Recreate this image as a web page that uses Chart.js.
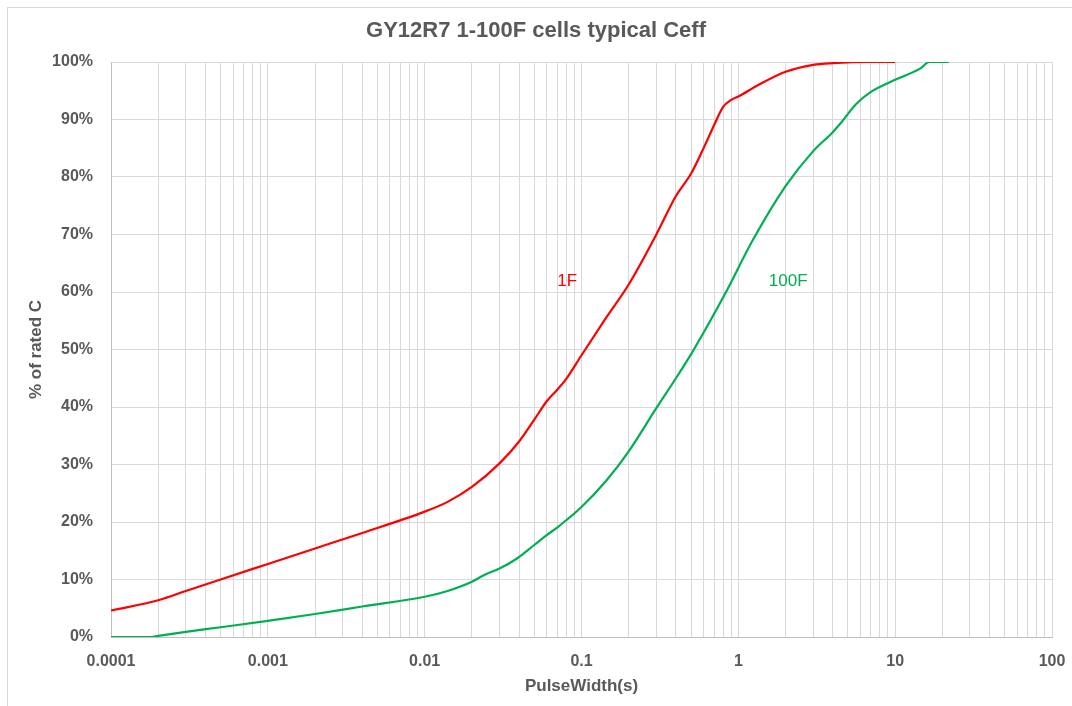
<!DOCTYPE html>
<html>
<head>
<meta charset="utf-8">
<script src="https://cdn.jsdelivr.net/npm/chart.js@4"></script>
<style>
    html, body { margin: 0; padding: 0; background: #fff; }
    canvas { display: block; }
</style>
</head>
<body>
<canvas id="ceff-chart" width="1072" height="706"></canvas>
<script>
// Pulse width (s) vs % of rated C
var pulse1F = [0.0001, 0.0002, 0.0003, 0.0005, 0.001, 0.002, 0.004, 0.01, 0.014, 0.02, 0.03, 0.04, 0.05, 0.06, 0.07, 0.08, 0.1, 0.145, 0.2, 0.3, 0.4, 0.5, 0.6, 0.7, 0.8, 0.9, 1.0, 1.34, 2.0, 3.0, 4.0, 7.0, 10];
var ceff1F = [4.6, 6.4, 8.0, 10.0, 12.7, 15.4, 18.1, 21.8, 23.5, 26.1, 30.2, 34.0, 37.8, 41.0, 43.0, 44.9, 49.0, 55.7, 61.3, 70.0, 76.7, 80.6, 85.0, 89.0, 92.2, 93.4, 94.0, 96.0, 98.3, 99.5, 99.8, 100, 100];

var pulse100F = [0.0001, 0.00018, 0.0002, 0.0003, 0.0005, 0.001, 0.002, 0.004, 0.01, 0.014, 0.02, 0.024, 0.03, 0.039, 0.05, 0.06, 0.072, 0.1, 0.145, 0.2, 0.3, 0.4, 0.5, 0.62, 0.82, 1.23, 2.0, 3.0, 4.0, 4.6, 5.6, 7.0, 10, 14.5, 16.5, 22];
var ceff100F = [0.0, 0.0, 0.2, 0.9, 1.7, 2.8, 4.0, 5.3, 7.0, 8.0, 9.6, 10.8, 11.9, 13.7, 16.0, 17.7, 19.3, 22.6, 27.3, 32.3, 39.8, 45.0, 49.2, 53.6, 59.6, 68.9, 78.4, 84.5, 87.8, 89.7, 92.6, 94.8, 96.9, 98.9, 100, 100];

var xTickLabels = ['0.0001', '0.001', '0.01', '0.1', '1', '10', '100'];
var yTickValues = [0, 10, 20, 30, 40, 50, 60, 70, 80, 90, 100];

// series names and where their text labels sit (data coords)
var seriesNames = ['1F', '100F'];
var seriesColors = ['#ff0000', '#00b050'];
var labelAt = [[0.081, 61.9], [2.08, 61.9]];

function toPoints(xs, ys) {
    return xs.map(function(x, i) { return {x: x, y: ys[i]}; });
}

// log grid: every 1..9 of each decade
var xGridValues = [];
xTickLabels.forEach(function(lbl, d) {
    var base = parseFloat(lbl);
    if (d === xTickLabels.length - 1) { xGridValues.push(base); return; }
    for (var m = 1; m <= 9; m++) xGridValues.push(+(base * m).toPrecision(6));
});

var grey = '#595959';
var gridCol = '#d9d9d9';
var fontFamily = '"Liberation Sans", Arial, sans-serif';

var backgroundPlugin = {
    id: 'bg',
    beforeDraw: function(chart) {
        var ctx = chart.ctx;
        ctx.save();
        ctx.fillStyle = '#fff';
        ctx.fillRect(0, 0, chart.width, chart.height);
        ctx.strokeStyle = gridCol;
        ctx.lineWidth = 1;
        ctx.strokeRect(7.5, 7.5, 1200, 900);
        ctx.restore();
    }
};

var seriesLabelPlugin = {
    id: 'seriesLabels',
    afterDatasetsDraw: function(chart) {
        var ctx = chart.ctx;
        var xs = chart.scales.x, ys = chart.scales.y;
        ctx.save();
        ctx.font = '17px ' + fontFamily;
        ctx.textAlign = 'center';
        ctx.textBaseline = 'middle';
        seriesNames.forEach(function(name, i) {
            ctx.fillStyle = seriesColors[i];
            ctx.fillText(name, xs.getPixelForValue(labelAt[i][0]), ys.getPixelForValue(labelAt[i][1]));
        });
        ctx.restore();
    }
};

var ctx = document.getElementById('ceff-chart');
var ceffChart = new Chart(ctx, {
    type: 'scatter',
    data: {
        datasets: [{
            label: seriesNames[0],
            data: toPoints(pulse1F, ceff1F),
            borderColor: seriesColors[0],
            showLine: true,
            borderWidth: 2.2,
            pointRadius: 0,
            cubicInterpolationMode: 'monotone'
        }, {
            label: seriesNames[1],
            data: toPoints(pulse100F, ceff100F),
            borderColor: seriesColors[1],
            showLine: true,
            borderWidth: 2.2,
            pointRadius: 0,
            cubicInterpolationMode: 'monotone'
        }]
    },
    options: {
        responsive: false,
        devicePixelRatio: 1,
        animation: false,
        layout: { padding: 0 },
        plugins: {
            legend: { display: false },
            tooltip: { enabled: false },
            title: {
                display: true,
                text: 'GY12R7 1-100F cells typical Ceff',
                color: grey,
                font: { family: fontFamily, size: 22, weight: 'bold' },
                padding: { top: 18, bottom: 17.6 }
            }
        },
        scales: {
            x: {
                type: 'logarithmic',
                min: 0.0001,
                max: 100,
                afterBuildTicks: function(scale) {
                    scale.ticks = xGridValues.map(function(v) { return {value: v}; });
                },
                afterFit: function(scale) {
                    scale.height = 69;
                    scale.paddingRight = 20;
                    scale.paddingLeft = 0;
                },
                ticks: {
                    autoSkip: false,
                    maxRotation: 0,
                    padding: 15,
                    color: grey,
                    font: { family: fontFamily, size: 16, weight: 'bold' },
                    callback: function(value) {
                        var e = Math.log10(value);
                        if (Math.abs(e - Math.round(e)) > 1e-9) return '';
                        return xTickLabels[Math.round(e) + 4];
                    }
                },
                grid: { color: gridCol, drawTicks: false },
                border: { color: '#bfbfbf' },
                title: {
                    display: true,
                    text: 'PulseWidth(s)',
                    color: grey,
                    font: { family: fontFamily, size: 17, weight: 'bold' },
                    padding: { top: 0, bottom: 9 }
                }
            },
            y: {
                min: 0,
                max: 100,
                afterBuildTicks: function(scale) {
                    scale.ticks = yTickValues.map(function(v) { return {value: v}; });
                },
                afterFit: function(scale) { scale.width = 111; },
                ticks: {
                    padding: 18,
                    color: grey,
                    font: { family: fontFamily, size: 16, weight: 'bold' },
                    callback: function(value) { return value + '%'; }
                },
                grid: { color: gridCol, drawTicks: false },
                border: { color: '#bfbfbf' },
                title: {
                    display: true,
                    text: '% of rated C',
                    color: grey,
                    font: { family: fontFamily, size: 17, weight: 'bold' },
                    padding: { top: 26, bottom: 0 }
                }
            }
        }
    },
    plugins: [backgroundPlugin, seriesLabelPlugin]
});
</script>
</body>
</html>
